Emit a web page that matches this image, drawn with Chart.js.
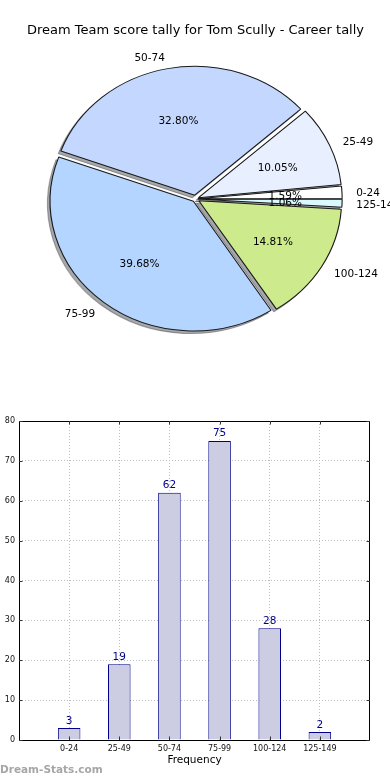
<!DOCTYPE html>
<html><head><meta charset="utf-8">
<script src="https://cdn.jsdelivr.net/npm/chart.js@4"></script>
<style>
html,body{margin:0;padding:0;background:#fff;width:390px;height:780px;overflow:hidden;}
#pieBox{position:absolute;left:0;top:0;width:390px;height:400px;}
#barBox{position:absolute;left:0;top:400px;width:390px;height:380px;}
#wm{position:absolute;left:0;top:763px;font:bold 10.5px "DejaVu Sans",sans-serif;line-height:12px;color:#a6a6a6;white-space:nowrap;}
</style></head><body>
<div id="pieBox"><canvas id="pie"></canvas></div>
<div id="barBox"><canvas id="bar"></canvas></div>
<div id="wm">Dream-Stats.com</div>
<script>
const chartTitle = 'Dream Team score tally for Tom Scully - Career tally';
const categories = ['0-24', '25-49', '50-74', '75-99', '100-124', '125-149'];
const frequencies = [3, 19, 62, 75, 28, 2];
const pieColors = ['#ffffff', '#e8f0ff', '#c4d8ff', '#b3d5ff', '#cdea8c', '#d9f9ff'];
const xAxisTitle = 'Frequency';
const watermark = 'Dream-Stats.com';

const FONT = '"DejaVu Sans", sans-serif';
const total = frequencies.reduce((a, b) => a + b, 0);
const pieOrder = categories.map((c, i) => i).reverse();
const SX = 1.105, EXPLODE = 4.2, R = 128.5, TEXT_DY = 1.8;

const ellipse = {
  id: 'ellipse',
  beforeDatasetsDraw(chart) {
    const arcs = chart.getDatasetMeta(0).data;
    const cx = arcs[0].x;
    const ctx = chart.ctx;
    ctx.save();
    ctx.translate(cx, 0); ctx.scale(SX, 1); ctx.translate(-cx, 0);
    ctx.save();
    ctx.translate(-2.6 / SX, 2.6);
    arcs.forEach(a => {
      const p = Object.create(a);
      p.options = Object.assign({}, a.options, {backgroundColor: 'rgba(60,63,70,0.45)', borderColor: 'rgba(60,63,70,0.45)'});
      p.draw(ctx);
    });
    ctx.restore();
  },
  afterDatasetsDraw(chart) {
    const ctx = chart.ctx;
    ctx.restore();
    const arcs = chart.getDatasetMeta(0).data;
    ctx.save();
    ctx.font = '10.5px ' + FONT;
    ctx.fillStyle = '#000';
    ctx.textBaseline = 'middle';
    arcs.forEach((a, k) => {
      const idx = pieOrder[k];
      const mid = (a.startAngle + a.endAngle) / 2;
      const cos = Math.cos(mid), sin = Math.sin(mid);
      const pr = 0.6 * a.outerRadius + EXPLODE;
      ctx.textAlign = 'center';
      ctx.fillText((frequencies[idx] / total * 100).toFixed(2) + '%', a.x + SX * pr * cos, a.y + pr * sin + TEXT_DY);
      const lr = 1.1 * a.outerRadius + EXPLODE;
      ctx.textAlign = cos > 0 ? 'left' : 'right';
      ctx.fillText(categories[idx], a.x + SX * lr * cos, a.y + lr * sin + TEXT_DY);
    });
    ctx.restore();
  }
};

new Chart(document.getElementById('pie'), {
  type: 'pie',
  data: {
    labels: pieOrder.map(i => categories[i]),
    datasets: [{
      data: pieOrder.map(i => frequencies[i]),
      backgroundColor: pieOrder.map(i => pieColors[i]),
      borderColor: '#1a1a1a',
      borderWidth: 1,
      clip: false,
      offset: (c) => {
        const circ = c.raw / total * Math.PI * 2;
        const fix = 1 - Math.sin(Math.min(Math.PI, circ));
        return 4 * EXPLODE / (1 + fix);
      }
    }]
  },
  options: {
    responsive: true, maintainAspectRatio: false, animation: false, events: [],
    rotation: 90, radius: R,
    layout: {padding: {left: 1, right: 0, top: 0, bottom: 40.8}},
    plugins: {
      legend: {display: false}, tooltip: {enabled: false},
      title: {display: true, text: chartTitle, color: '#000', font: {family: FONT, size: 13, weight: 'normal'}, padding: {top: 23, bottom: 0}}
    }
  },
  plugins: [ellipse]
});

const barDecor = {
  id: 'barDecor',
  afterDatasetsDraw(chart) {
    const ctx = chart.ctx;
    const bars = chart.getDatasetMeta(0).data;
    ctx.save();
    ctx.font = '10.5px ' + FONT;
    ctx.fillStyle = '#00008b';
    ctx.textAlign = 'center';
    ctx.textBaseline = 'alphabetic';
    bars.forEach((b, i) => ctx.fillText(String(frequencies[i]), b.x, b.y - 4.5));
    ctx.restore();
  },
  afterDraw(chart) {
    const ctx = chart.ctx;
    const {left, top, right, bottom} = chart.chartArea;
    const xs = chart.scales.x, ys = chart.scales.y;
    ctx.save();
    ctx.strokeStyle = '#000';
    ctx.lineWidth = 1;
    ctx.strokeRect(Math.round(left) + 0.5, Math.round(top) + 0.5, Math.round(right - left) - 1, Math.round(bottom - top));
    ctx.strokeStyle = '#333';
    ctx.beginPath();
    xs.ticks.forEach(t => {
      const px = Math.round(xs.getPixelForValue(t.value)) + 0.5;
      ctx.moveTo(px, top); ctx.lineTo(px, top + 3.5);
      ctx.moveTo(px, bottom); ctx.lineTo(px, bottom - 3.5);
    });
    ys.ticks.forEach(t => {
      const py = Math.round(ys.getPixelForValue(t.value)) + 0.5;
      ctx.moveTo(left, py); ctx.lineTo(left + 3.5, py);
      ctx.moveTo(right, py); ctx.lineTo(right - 3.5, py);
    });
    ctx.stroke();
    ctx.restore();
  }
};

new Chart(document.getElementById('bar'), {
  type: 'bar',
  data: {
    datasets: [{
      data: frequencies.map((v, i) => ({x: i, y: v})),
      backgroundColor: '#ccccE2',
      borderColor: '#000088',
      borderWidth: 1,
      barPercentage: 0.45,
      categoryPercentage: 1
    }]
  },
  options: {
    responsive: true, maintainAspectRatio: false, animation: false, events: [],
    layout: {padding: {top: 21, right: 20, left: 0, bottom: 0}},
    plugins: {legend: {display: false}, tooltip: {enabled: false}},
    scales: {
      x: {
        type: 'linear', min: -1, max: 6, offset: false,
        afterBuildTicks: ax => { ax.ticks = categories.map((c, i) => ({value: i})); },
        afterFit: s => { s.height = 40; },
        ticks: {font: {family: FONT, size: 8}, color: '#111', padding: 4, maxRotation: 0, autoSkip: false,
                callback: v => categories[v] !== undefined ? categories[v] : ''},
        grid: {color: '#bdbdbd', lineWidth: 1, drawTicks: false, offset: false},
        border: {display: false, dash: [1, 2]},
        title: {display: true, text: xAxisTitle, color: '#000', font: {family: FONT, size: 10.5}, padding: {top: 0, bottom: 13.7}}
      },
      y: {
        min: 0, max: 80,
        afterFit: s => { s.width = 19; },
        ticks: {stepSize: 10, font: {family: FONT, size: 8}, color: '#111', padding: 4},
        grid: {color: '#bdbdbd', lineWidth: 1, drawTicks: false},
        border: {display: false, dash: [1, 2]}
      }
    }
  },
  plugins: [barDecor]
});
document.getElementById('wm').textContent = watermark;
</script>
</body></html>
